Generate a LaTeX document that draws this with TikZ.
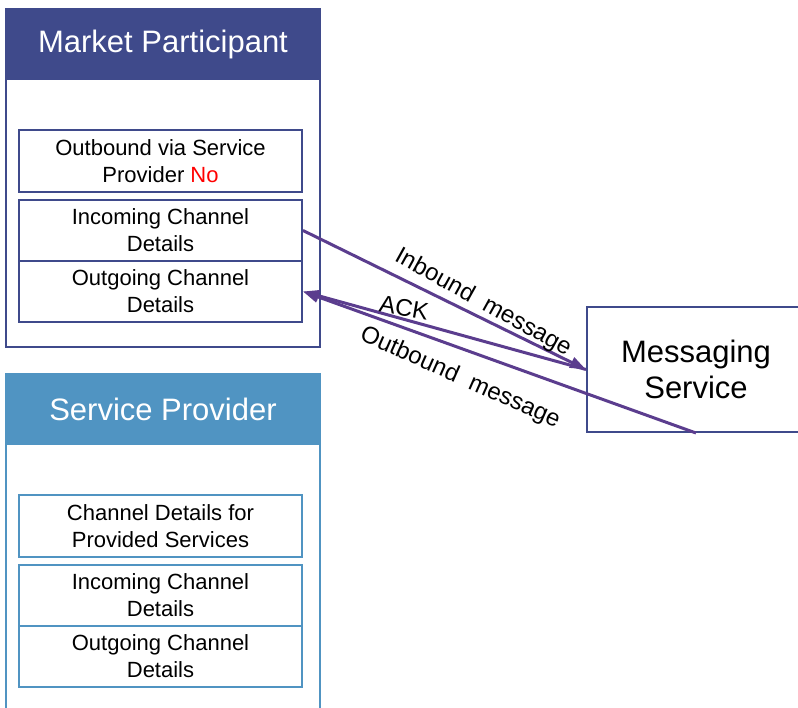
\documentclass[tikz,border=0pt]{standalone}
\usepackage{fontspec}
\setmainfont{Liberation Sans}
\usepackage{xcolor}
\usetikzlibrary{positioning,arrows.meta}
\definecolor{mpblue}{HTML}{3F4A8B}
\definecolor{spblue}{HTML}{5094C2}
\definecolor{msgpurple}{HTML}{5B3D8E}

\begin{document}
\begin{tikzpicture}[x=1pt,y=-1pt,line width=2pt,>={Triangle[length=16pt,width=11pt]},
        outer/.style={draw=#1,anchor=north west,minimum width=314pt,inner sep=0pt},
        header/.style={fill=#1,draw=#1,anchor=north west,minimum width=314pt,minimum height=70pt,
            inner sep=0pt,text=white,font=\fontsize{31}{36}\selectfont},
        detail/.style={draw=#1,minimum width=283pt,minimum height=61pt,inner sep=0pt,
            align=center,font=\fontsize{22}{27}\selectfont},
        msgline/.style={draw=msgpurple,line width=3pt},
        msglabel/.style={font=\fontsize{24}{28}\selectfont,inner sep=0pt}]
        \useasboundingbox (0,0) rectangle (798,708);

        % market participant
        \node[outer=mpblue,minimum height=338pt] (mpbox) at (5,8) {};
        \node[header=mpblue] (mphead) at (5,8) {Market Participant};
        \node[detail=mpblue,minimum height=62pt] (mpvia) at (160.5,161) {Outbound via Service\\Provider \textcolor{red}{No}};
        \node[detail=mpblue,below=6pt of mpvia] (mpin) {Incoming Channel\\Details};
        \node[detail=mpblue,below=-2pt of mpin] (mpout) {Outgoing Channel\\Details};

        % service provider (runs off the bottom)
        \node[outer=spblue,minimum height=360pt] (spbox) at (5,373) {};
        \node[header=spblue] (sphead) at (5,373) {Service Provider};
        \node[detail=spblue,minimum height=62pt] (spprov) at (160.5,526) {Channel Details for\\Provided Services};
        \node[detail=spblue,below=6pt of spprov] (spin) {Incoming Channel\\Details};
        \node[detail=spblue,below=-2pt of spin] (spout) {Outgoing Channel\\Details};

        % messaging service (runs off the right side)
        \node[draw=mpblue,minimum width=218pt,minimum height=125pt,inner sep=0pt,align=center,
            font=\fontsize{31}{36}\selectfont] (msgsvc) at (696,369.5) {Messaging\\Service};

        % messages
        \draw[msgline,->] (mpin.east) -- (msgsvc.west);
        \draw[msgline,->] (msgsvc.west) -- (mpout.east);
        \draw[msgline,->] (msgsvc.south) -- (mpout.east);

        \node[msglabel,rotate=-29] (inlbl) at (483,303) {Inbound\ \ message};
        \node[msglabel,rotate=-10] (acklbl) at (404,308) {ACK};
        \node[msglabel,rotate=-24] (outlbl) at (460,378) {Outbound\ \ message};
\end{tikzpicture}
\end{document}
